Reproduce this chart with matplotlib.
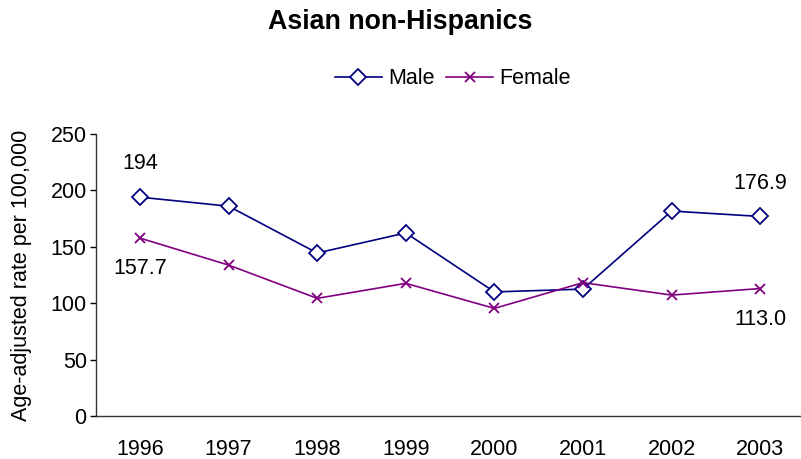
import matplotlib
matplotlib.use("Agg")
import matplotlib.pyplot as plt

years = ["1996", "1997", "1998", "1999", "2000", "2001", "2002", "2003"]
male = [194.0, 186.0, 144.5, 162.3, 110.0, 112.5, 181.7, 176.9]
female = [157.7, 133.8, 104.3, 117.6, 95.4, 118.2, 107.2, 113.0]
male_labels = {0: "194", 7: "176.9"}
female_labels = {0: "157.7", 7: "113.0"}

plt.rcParams['font.family'] = ['Liberation Sans', 'DejaVu Sans']
FS = 15.5

W, H = 801, 459
fig = plt.figure(figsize=(W / 100, H / 100), dpi=100)
left, right, bottom, top = 95.7, 804.5, 416, 134
ax = fig.add_axes([left / W, 1 - bottom / H, (right - left) / W, (bottom - top) / H])

x = list(range(len(years)))
ax.plot(x, male, color="#000080", lw=1.2, marker="D", ms=8, mfc="white",
        mec="#000080", mew=1.3, label="Male", zorder=3)
ax.plot(x, female, color="#800080", lw=1.2, marker="x", ms=7.5,
        mec="#800080", mew=1.3, label="Female", zorder=3)

for i, t in male_labels.items():
    ax.annotate(t, (x[i], male[i]), xytext=(0, 24), textcoords="offset points",
                ha="center", va="center", fontsize=FS)
for i, t in female_labels.items():
    ax.annotate(t, (x[i], female[i]), xytext=(0, -22), textcoords="offset points",
                ha="center", va="center", fontsize=FS)

ax.set_xlim(-0.5, len(years) - 0.5)
ax.set_ylim(0, 250)
ax.set_yticks([0, 50, 100, 150, 200, 250])
ax.set_xticks(x)
ax.set_xticklabels(years)
ax.tick_params(axis="y", direction="out", length=4.5, width=1, labelsize=FS, pad=2)
ax.tick_params(axis="x", length=0, labelsize=FS, pad=16.5)
for s in ["top", "right"]:
    ax.spines[s].set_visible(False)
for s in ["left", "bottom"]:
    ax.spines[s].set_color("#333333")
    ax.spines[s].set_linewidth(1)

ax.set_ylabel("Age-adjusted rate per 100,000", fontsize=FS, va="center")
ax.yaxis.set_label_coords(-(left - 21) / (right - left), 0.5)

fig.text(400 / W, 1 - 22 / H, "Asian non-Hispanics", ha="center", va="center",
         fontsize=19.3, fontweight="bold")

leg = fig.legend(loc="center", bbox_to_anchor=(453 / W, 1 - 79 / H), ncol=2,
                 frameon=False, fontsize=FS, handlelength=2.2, handletextpad=0.3,
                 columnspacing=0.5, borderpad=0)

fig.savefig("out.png", dpi=100)
